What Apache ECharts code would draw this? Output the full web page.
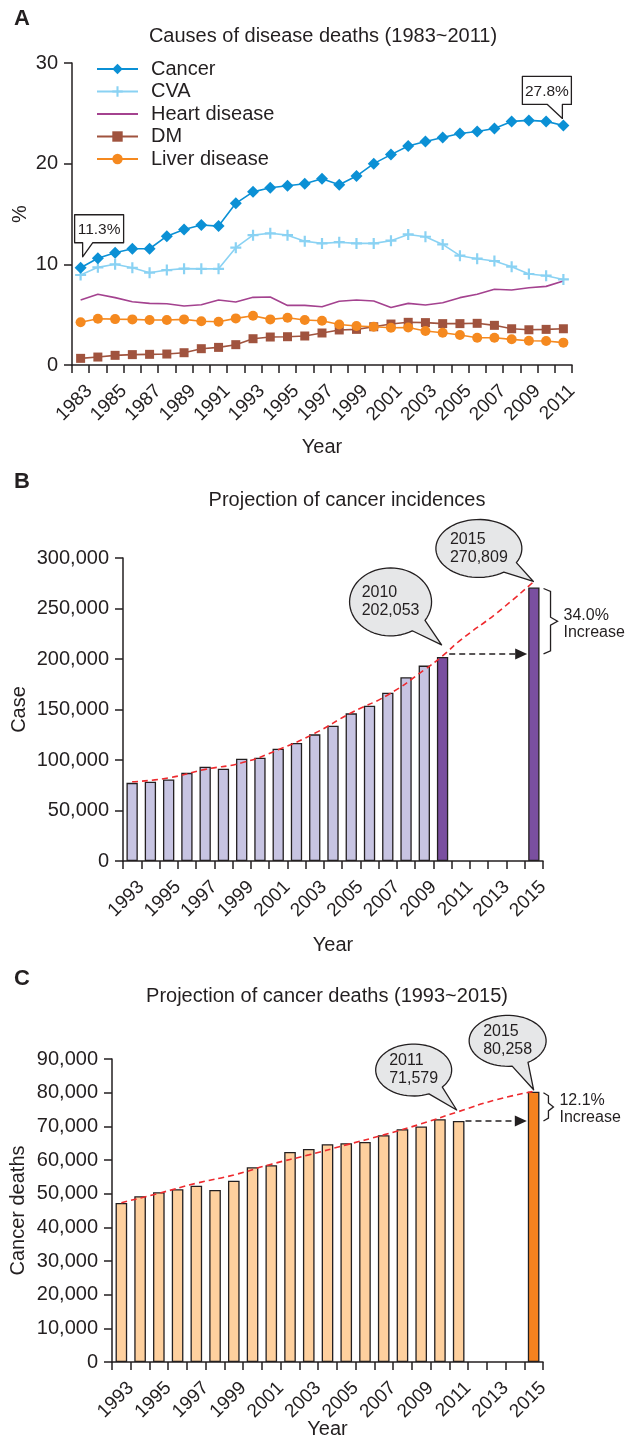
<!DOCTYPE html>
<html>
<head>
<meta charset="utf-8">
<script src="https://cdn.jsdelivr.net/npm/echarts@6/dist/echarts.min.js"></script>
<style>
  html, body { margin: 0; padding: 0; background: #fff; }
  #main { width: 633px; height: 1439px; }
</style>
</head>
<body>
<div id="main"></div>
<script>
// ---- data ----
const yearsA = ['1983','1984','1985','1986','1987','1988','1989','1990','1991','1992','1993','1994','1995','1996','1997',
  '1998','1999','2000','2001','2002','2003','2004','2005','2006','2007','2008','2009','2010','2011'];
const cancer = [9.66,10.6,11.15,11.55,11.55,12.8,13.47,13.9,13.8,16.06,17.2,17.6,17.8,18.0,18.5,17.9,18.77,
  20.0,20.9,21.75,22.2,22.6,23.0,23.2,23.5,24.2,24.3,24.2,23.8];
const cva = [8.94,9.7,10.0,9.66,9.17,9.43,9.57,9.55,9.55,11.65,12.9,13.08,12.9,12.3,12.08,12.2,12.08,
  12.08,12.35,12.97,12.74,11.98,10.86,10.56,10.33,9.77,9.04,8.87,8.5];
const heart = [6.45,7.02,6.69,6.29,6.12,6.09,5.86,5.99,6.45,6.26,6.72,6.75,5.92,5.92,5.79,6.34,6.45,
  6.36,5.72,6.12,5.96,6.19,6.69,7.02,7.52,7.45,7.68,7.81,8.34];
const dm = [0.66,0.79,0.96,1.03,1.06,1.09,1.22,1.62,1.75,2.02,2.61,2.78,2.81,2.88,3.18,3.48,3.54,
  3.8,4.07,4.24,4.21,4.11,4.11,4.14,3.94,3.6,3.5,3.54,3.6];
const liver = [4.24,4.6,4.56,4.53,4.47,4.47,4.53,4.34,4.3,4.63,4.9,4.53,4.7,4.47,4.4,4.03,3.87,
  3.8,3.7,3.72,3.38,3.21,2.98,2.71,2.71,2.55,2.41,2.38,2.22];
const calloutsA = [['1983', '11.3%'], ['2011', '27.8%']];

const yearsB = ['1993','1994','1995','1996','1997','1998','1999','2000','2001','2002','2003','2004',
  '2005','2006','2007','2008','2009','2010','2011','2012','2013','2014','2015'];
const incidence = [77400,78400,80750,87300,93250,91270,101190,102180,111100,116770,125400,133900,
  146200,153770,166670,181950,193450,202053,null,null,null,null,270809];
const incidenceTrend = [78400,null,82300,null,90700,null,97200,null,110100,null,126400,null,
  146800,null,164400,null,189200,203100,218970,null,246000,null,276800];
const incidenceDark = ['2010', '2015'];

const deaths = [47230,49220,50400,51300,52380,51100,53870,57850,58450,62400,63300,64700,
  65000,65380,67380,69160,69940,72140,71579,null,null,null,80258];
const deathsTrend = [47320,null,50110,null,53090,null,55560,null,58750,null,61520,null,
  64490,null,67460,null,70740,null,74400,null,77890,null,80360];
const deathsDark = ['2015'];

// ---- styling ----
const FONT = '"Liberation Sans", Arial, Helvetica, sans-serif';
const INK = '#231f20';
const FS = 20;

// category axis used for placing the marks (drawn hidden)
const catX = (gi, data) => ({
  type: 'category', gridIndex: gi, data: data, boundaryGap: true, position: 'bottom', show: false
});
// visible axis: ticks on the band edges, year label ending at the edge after its band
const tickX = (gi, years, gap) => ({
  type: 'value', gridIndex: gi, position: 'bottom', min: 0, max: years.length, interval: 1,
  splitLine: { show: false },
  axisLine: { lineStyle: { color: INK, width: 1.5 } },
  axisTick: { length: 8, lineStyle: { color: INK, width: 1.5 } },
  axisLabel: {
    rotate: 45, align: 'right', verticalAlign: 'middle', margin: 23, color: INK, fontSize: 19, fontFamily: FONT,
    formatter: v => { const i = Math.round(v); return i % 2 === 1 ? years[i - 1] : ''; }
  },
  name: 'Year', nameLocation: 'middle', nameGap: gap, nameMoveOverlap: false,
  nameTextStyle: { color: INK, fontSize: FS, fontFamily: FONT }
});
const axisY = (gi, max, step, name, gap, fmt) => ({
  type: 'value', gridIndex: gi, min: 0, max: max, interval: step,
  splitLine: { show: false },
  axisLine: { show: true, lineStyle: { color: INK, width: 1.5 } },
  axisTick: { show: true, length: 8, lineStyle: { color: INK, width: 1.5 } },
  axisLabel: { margin: 14, color: INK, fontSize: FS, fontFamily: FONT, formatter: fmt },
  name: name, nameLocation: 'middle', nameGap: gap, nameMoveOverlap: false,
  nameTextStyle: { color: INK, fontSize: FS, fontFamily: FONT }
});
const comma = v => v.toLocaleString('en-US');

const lineS = (name, data, color, symbol, size) => ({
  name: name, type: 'line', xAxisIndex: 0, yAxisIndex: 0, data: data,
  symbol: symbol, symbolSize: size, showSymbol: symbol !== 'none', showAllSymbol: true,
  lineStyle: { color: color, width: 1.6 }, itemStyle: { color: color },
  emphasis: { disabled: true }
});
const barData = (years, vals, dark, light, strong) =>
  vals.map((v, i) => ({ value: v, itemStyle: { color: dark.indexOf(years[i]) >= 0 ? strong : light } }));
const barS = (gi, data) => ({
  type: 'bar', xAxisIndex: gi, yAxisIndex: gi, data: data, barWidth: '62%',
  itemStyle: { borderColor: INK, borderWidth: 1.3 }, emphasis: { disabled: true }
});
const trendS = (gi, data) => ({
  type: 'line', xAxisIndex: gi, yAxisIndex: gi, data: data, connectNulls: true, smooth: true,
  symbol: 'none', z: 5, lineStyle: { color: '#ee2a2e', width: 1.6, type: [6, 4] }
});

const option = {
  animation: false,
  backgroundColor: '#fff',
  textStyle: { fontFamily: FONT },
  grid: [
    { left: 72, top: 63, width: 500, height: 302, containLabel: false, outerBoundsMode: 'none' },
    { left: 123, top: 558, width: 420, height: 303, containLabel: false, outerBoundsMode: 'none' },
    { left: 112, top: 1059, width: 431, height: 303, containLabel: false, outerBoundsMode: 'none' }
  ],
  legend: {
    data: ['Cancer', 'CVA', { name: 'Heart disease', itemStyle: { opacity: 0 } }, 'DM', 'Liver disease'],
    orient: 'vertical', left: 91, top: 54, itemWidth: 41, itemHeight: 13, itemGap: 2.5,
    textStyle: { color: INK, fontSize: FS, fontFamily: FONT, padding: [0, 0, 0, 8] },
    selectedMode: false
  },
  xAxis: [catX(0, yearsA), catX(1, yearsB), catX(2, yearsB),
    tickX(0, yearsA, 72), tickX(1, yearsB, 74), tickX(2, yearsB, 57)],
  yAxis: [
    axisY(0, 30, 10, '%', 42),
    axisY(1, 300000, 50000, 'Case', 94, comma),
    axisY(2, 90000, 10000, 'Cancer deaths', 84, comma)
  ],
  series: [
    lineS('Heart disease', heart, '#a4428f', 'none', 0),
    lineS('CVA', cva, '#8ad2f3', 'path://M4,0L6,0L6,4L10,4L10,6L6,6L6,10L4,10L4,6L0,6L0,4L4,4Z', 11),
    lineS('DM', dm, '#a0533e', 'rect', 9),
    lineS('Liver disease', liver, '#f5891f', 'circle', 10),
    lineS('Cancer', cancer, '#0b90d5', 'diamond', 12),
    barS(1, barData(yearsB, incidence, incidenceDark, '#c7c4e2', '#7a4fa0')),
    trendS(1, incidenceTrend),
    barS(2, barData(yearsB, deaths, deathsDark, '#fed09e', '#f5821f')),
    trendS(2, deathsTrend)
  ]
};

const chart = echarts.init(document.getElementById('main'));
chart.setOption(option);

// ---- annotations, placed through the axes ----
const px = (gi, cat, v) => chart.convertToPixel({ xAxisIndex: gi, yAxisIndex: gi }, [cat, v]);
const ctx = document.createElement('canvas').getContext('2d');
const textW = (s, size) => { ctx.font = size + 'px ' + FONT; return ctx.measureText(s).width; };

const els = [];
const text = (x, y, s, o) => els.push({
  type: 'text', x: x, y: y, z: 100,
  style: Object.assign({ text: s, fill: INK, fontSize: FS, fontFamily: FONT,
    textAlign: 'center', textVerticalAlign: 'middle', align: 'center', verticalAlign: 'middle' }, o || {})
});

// panel letters and titles
text(22, 19, 'A', { fontSize: 22, fontWeight: 'bold' });
text(22, 482, 'B', { fontSize: 22, fontWeight: 'bold' });
text(22, 979, 'C', { fontSize: 22, fontWeight: 'bold' });
text(323, 36, 'Causes of disease deaths (1983~2011)');
text(347, 500, 'Projection of cancer incidences');
text(327, 996, 'Projection of cancer deaths (1993~2015)');

// callout boxes in panel A
calloutsA.forEach(([yr, label], k) => {
  const p = px(0, yr, cancer[yearsA.indexOf(yr)]);
  let pts;
  const w = 49, h = 28;
  if (k === 0) {
    const tip = [p[0] + 2, p[1] - 11], l = tip[0] - 8, t = tip[1] - 42;
    pts = [[l, t], [l + w, t], [l + w, t + h], [l + 18, t + h], tip, [l + 8, t + h], [l, t + h]];
    text(l + w / 2, t + h / 2 + 1, label, { fontSize: 15.5 });
  } else {
    const tip = [p[0] - 1, p[1] - 7], l = tip[0] - 40, t = tip[1] - 42;
    pts = [[l, t], [l + w, t], [l + w, t + h], [l + 40, t + h], tip, [l + 25, t + h], [l, t + h]];
    text(l + w / 2, t + h / 2 + 1, label, { fontSize: 15.5 });
  }
  els.push({ type: 'polygon', z: 90, shape: { points: pts },
    style: { fill: '#fff', stroke: INK, lineWidth: 1.3, lineJoin: 'round' } });
});

// speech bubble: ellipse with a tail to a tip point
function bubble(cx, cy, rx, ry, tip, lines) {
  const th = Math.atan2((tip[1] - cy) / ry, (tip[0] - cx) / rx);
  const pts = [];
  const a0 = th + 0.22, a1 = th - 0.22 + Math.PI * 2;
  for (let i = 0; i <= 60; i++) {
    const a = a0 + (a1 - a0) * i / 60;
    pts.push([cx + rx * Math.cos(a), cy + ry * Math.sin(a)]);
  }
  pts.push(tip);
  els.push({ type: 'polygon', z: 90, shape: { points: pts },
    style: { fill: '#e6e7e8', stroke: INK, lineWidth: 1.3, lineJoin: 'round' } });
  const wMax = Math.max(...lines.map(s => textW(s, 16)));
  text(cx - wMax / 2, cy, lines.join('\n'), { fontSize: 16, lineHeight: 18,
    textAlign: 'left', align: 'left' });
}

// dashed arrow from one bar top to the projected bar, plus a brace with the increase
function projection(gi, years, vals, fromYr, toYr, pct, braceW, arrowDy) {
  const band = px(gi, years[1], 0)[0] - px(gi, years[0], 0)[0];
  const half = band * 0.31;
  const a = px(gi, fromYr, vals[years.indexOf(fromYr)]);
  const b = px(gi, toYr, vals[years.indexOf(toYr)]);
  const y = a[1] + arrowDy;
  const x0 = a[0] + half + 1, x1 = b[0] - half - 1;
  els.push({ type: 'line', z: 90, shape: { x1: x0, y1: y, x2: x1 - 10, y2: y },
    style: { stroke: INK, lineWidth: 1.6, lineDash: [6, 4] } });
  els.push({ type: 'polygon', z: 90, shape: { points: [[x1 - 12, y - 5.5], [x1, y], [x1 - 12, y + 5.5]] },
    style: { fill: INK } });
  const bx = b[0] + half + 4, y1 = b[1] + 1, y2 = y, ym = (y1 + y2) / 2;
  const m = braceW / 2;
  els.push({ type: 'polyline', z: 90,
    shape: { points: [[bx, y1], [bx + m, y1 + 3], [bx + m, ym - 4], [bx + braceW, ym], [bx + m, ym + 4], [bx + m, y2 - 3], [bx, y2]] },
    style: { stroke: INK, lineWidth: 1.3, fill: null } });
  text(bx + braceW + 6, ym - 6, pct, { fontSize: 16, textAlign: 'left', align: 'left' });
  text(bx + braceW + 6, ym + 11, 'Increase', { fontSize: 16, textAlign: 'left', align: 'left' });
  return { a: a, b: b };
}

const pb = projection(1, yearsB, incidence, '2010', '2015', '34.0%', 14, -3);
bubble(pb.a[0] - 52, pb.a[1] - 55, 41, 34, [pb.a[0] - 1, pb.a[1] - 12], ['2010', '202,053']);
bubble(pb.b[0] - 55, pb.b[1] - 39, 43, 29, [pb.b[0] - 0.5, pb.b[1] - 6], ['2015', '270,809']);

const pc = projection(2, yearsB, deaths, '2011', '2015', '12.1%', 10, 0);
bubble(pc.a[0] - 45, pc.a[1] - 51, 38, 26, [pc.a[0] - 2, pc.a[1] - 11], ['2011', '71,579']);
bubble(pc.b[0] - 26, pc.b[1] - 51, 38.5, 25.5, [pc.b[0], pc.b[1] - 2], ['2015', '80,258']);

chart.setOption({ graphic: { elements: els } });
</script>
</body>
</html>
